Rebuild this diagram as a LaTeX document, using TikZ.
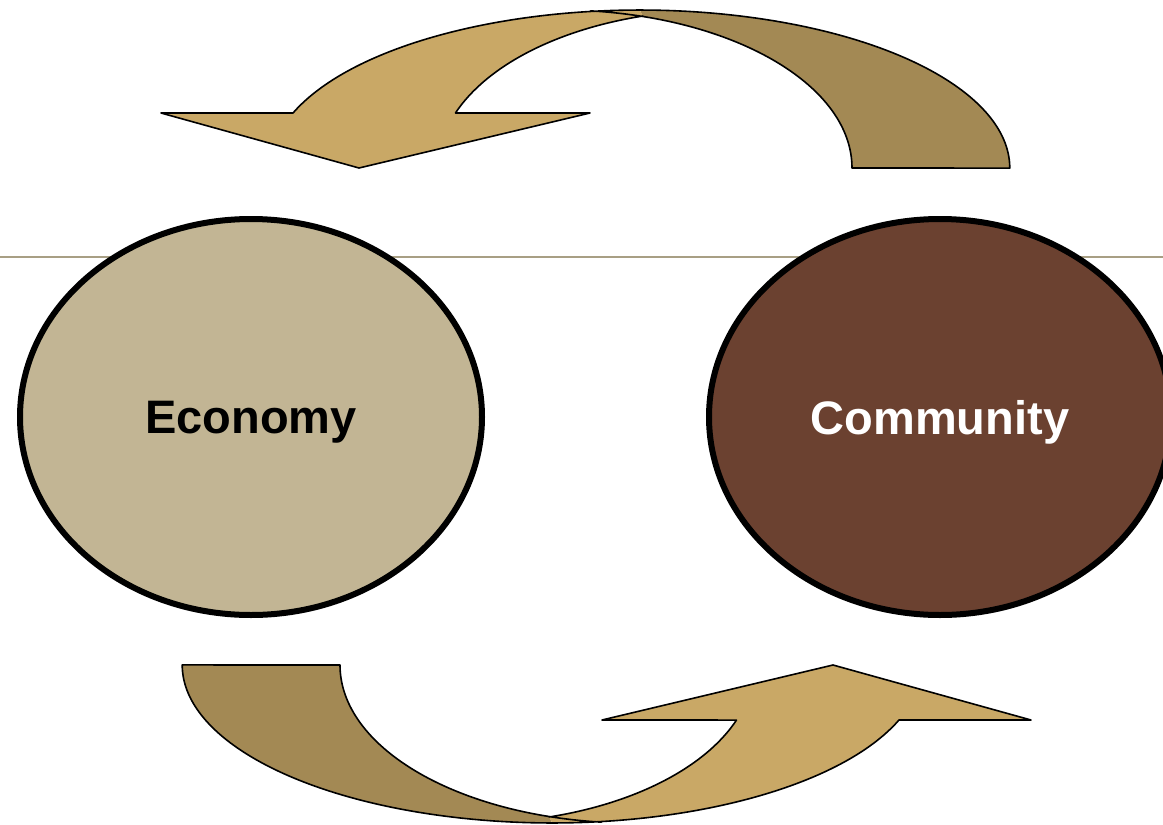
\documentclass[tikz,border=0pt]{standalone}
\usepackage{fontspec}
\setmainfont{Liberation Sans}
\usetikzlibrary{shapes.geometric}
\definecolor{sand}{HTML}{C9A866}
\definecolor{bronze}{HTML}{A38954}
\definecolor{khaki}{HTML}{C2B594}
\definecolor{cocoa}{HTML}{6B4130}
\definecolor{rulegray}{HTML}{A89F84}
\tikzset{
  oval/.style={ellipse, draw=black, line width=6pt, minimum width=462, minimum height=396,
    inner sep=0pt, text depth=0pt, font=\fontsize{47}{56}\selectfont\bfseries},
  band/.style={draw=black, line width=1.6pt, line join=round},
}
\begin{document}
\begin{tikzpicture}[x=1pt, y=-1pt, line cap=round, line join=round]
\useasboundingbox (0,0) rectangle (1163,825);
% thin rule behind the ovals
\coordinate (rule west) at (0,257);
\coordinate (rule east) at (1163,257);
\draw[rulegray, line width=1.2pt] (rule west)--(rule east);
% the two curved arrows, the lower one is the upper one turned round
\foreach \r in {0,180}{
\begin{scope}[rotate around={\r:(596,416.5)}]
  \fill[bronze] (640,10) arc[start angle=270, end angle=360, x radius=370, y radius=158]
    -- (852,168) arc[start angle=0, end angle=-73.5, x radius=292, y radius=158] -- cycle;
  \fill[sand] (293,113) arc[start angle=200.4, end angle=270, x radius=370, y radius=158]
    -- (643,16) arc[start angle=254.2, end angle=200.4, x radius=282, y radius=158]
    -- (590,113) -- (359,168) -- (161,113) -- cycle;
  \draw[band] (643,16) arc[start angle=254.2, end angle=200.4, x radius=282, y radius=158]
    -- (590,113) -- (359,168) -- (161,113) -- (293,113)
    arc[start angle=200.4, end angle=360, x radius=370, y radius=158] -- (852,168)
    arc[start angle=0, end angle=-84, x radius=292, y radius=158];
\end{scope}}
% the ovals
\node[oval, fill=khaki] (economy) at (251,417) {Economy};
\node[oval, fill=cocoa, text=white] (community) at (940,417) {Community};
\end{tikzpicture}
\end{document}
